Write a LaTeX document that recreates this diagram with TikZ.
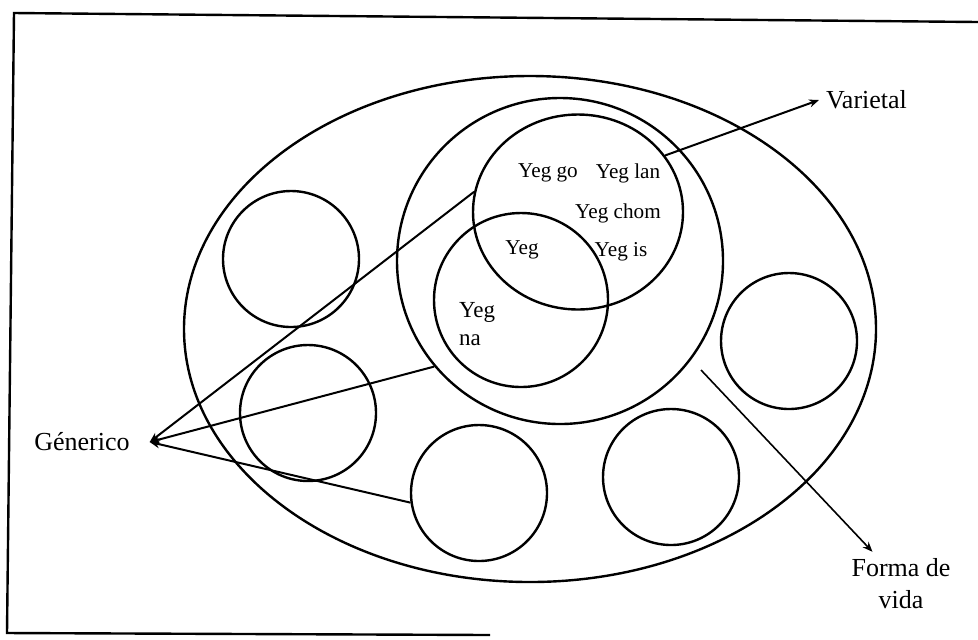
\documentclass[tikz,border=0pt]{standalone}
\usepackage{fontspec}
\setmainfont{Liberation Serif}
\usetikzlibrary{arrows.meta,positioning,shapes.geometric}

\begin{document}
\begin{tikzpicture}[x=0.5pt, y=-0.5pt, >=Stealth,
    ring/.style={draw, circle, line width=1.2pt, inner sep=0pt, minimum size=68pt},
    lbl/.style={font=\fontsize{13}{16}\selectfont},
    yeg/.style={font=\fontsize{10.6}{12}\selectfont, inner sep=0pt},
    link/.style={line width=1pt, -{Stealth[length=5pt,width=4pt]}}]
    \useasboundingbox (0,0) rectangle (978,639);
    \draw[line width=1.2pt] (490,635) -- (7,633) -- (14,13) -- (978,22);
    \node[draw, ellipse, line width=1.2pt, inner sep=0pt,
      minimum width=346pt, minimum height=253pt] (vida) at (530,329) {};
    \node[ring, minimum size=163pt] (genc) at (560,261) {};
    \node[draw, ellipse, line width=1.2pt, inner sep=0pt,
      minimum width=105pt, minimum height=97.5pt] (varc) at (578,212) {};
    \node[ring, minimum size=87pt] (nac) at (521,300) {};
    \foreach \cx/\cy/\cn in {291/259/c1, 308/413/c2, 479/493/c3,
      671/477/c4, 789/341/c5}{
      \node[ring] (\cn) at (\cx,\cy) {};
    }
    \node[yeg] (ygo) at (548,173) {Yeg go};
    \node[yeg] (ylan) at (628,173) {Yeg lan};
    \node[yeg] (ychom) at (618,213) {Yeg chom};
    \node[yeg] (yis) at (621,252) {Yeg is};
    \node[yeg] (yeg) at (522,250) {Yeg};
    \node[yeg, font=\fontsize{11.5}{14}\selectfont, align=left]
      (yna) at (477,324) {Yeg\\na};
    \node[lbl] (gen) at (82,442) {Génerico};
    \node[lbl, anchor=west] (var) at (819,100) {Varietal};
    \node[lbl, align=center] (forma) at (901,584) {Forma de\\vida};
    \coordinate (gtip) at ([xshift=6.5pt]gen.east);
    \draw[link] (varc.169.5) -- (gtip);
    \draw[link] (genc.220) -- (gtip);
    \draw[link] (c3.188.5) -- (gtip);
    \draw[link] (varc.33) -- (var.west);
    \coordinate (fstart) at (701,370);
    \draw[link, line width=0.8pt] (fstart) -- ([xshift=14pt]forma.north west);
\end{tikzpicture}
\end{document}
